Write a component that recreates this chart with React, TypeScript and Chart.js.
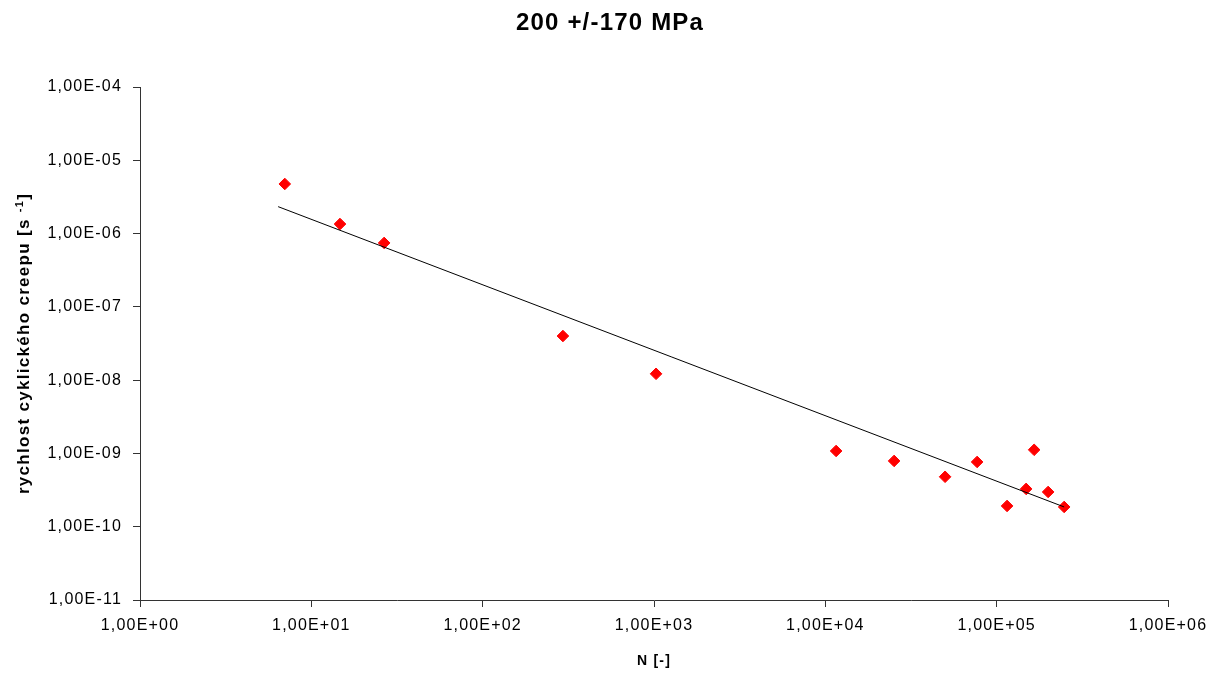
import React, { useEffect, useRef } from 'react';
import { Chart, registerables } from 'chart.js';

Chart.register(...registerables);

const chartTitle = '200 +/-170 MPa';
const xAxisTitle = 'N [-]';
const yAxisTitleMain = 'rychlost cyklického creepu [s ';
const yAxisTitleSup = '-1';
const yAxisTitleEnd = ']';

const nCycles = [7.0, 14.7, 26.6, 294, 1028, 11560, 25200, 50000, 76900, 115000, 148600, 165500, 199700, 247700];
const creepRate = [4.75e-6, 1.35e-6, 7.45e-7, 4.0e-8, 1.22e-8, 1.08e-9, 7.9e-10, 4.8e-10, 7.65e-10, 1.92e-10, 3.28e-10, 1.12e-9, 2.98e-10, 1.86e-10];

const trendN = [6.4, 247700];
const trendRate = [2.33e-6, 1.86e-10];

const xTickValues = [1, 10, 100, 1000, 10000, 100000, 1000000];
const xTickLabels = ['1,00E+00', '1,00E+01', '1,00E+02', '1,00E+03', '1,00E+04', '1,00E+05', '1,00E+06'];
const yTickValues = [1e-11, 1e-10, 1e-9, 1e-8, 1e-7, 1e-6, 1e-5, 1e-4];
const yTickLabels = ['1,00E-11', '1,00E-10', '1,00E-09', '1,00E-08', '1,00E-07', '1,00E-06', '1,00E-05', '1,00E-04'];

const FONT = "'Liberation Sans', Arial, sans-serif";

const spacingPlugin = {
  id: 'spacing',
  beforeDraw(chart: any) {
    (chart.ctx as any).letterSpacing = '1.2px';
  },
  afterDraw(chart: any) {
    (chart.ctx as any).letterSpacing = '0px';
  },
};

const yTitlePlugin = {
  id: 'yTitleSup',
  afterDraw(chart: any) {
    const ctx = chart.ctx as any;
    ctx.save();
    ctx.letterSpacing = '1.3px';
    const mainFont = `bold 17px ${FONT}`;
    const supFont = `bold 11px ${FONT}`;
    ctx.font = mainFont;
    const w1 = ctx.measureText(yAxisTitleMain).width;
    const w3 = ctx.measureText(yAxisTitleEnd).width;
    ctx.font = supFont;
    const w2 = ctx.measureText(yAxisTitleSup).width;
    const total = w1 + w2 + w3;
    const cy = (chart.chartArea.top + chart.chartArea.bottom) / 2;
    ctx.translate(29, cy);
    ctx.rotate(-Math.PI / 2);
    ctx.fillStyle = '#000';
    ctx.textBaseline = 'alphabetic';
    ctx.textAlign = 'left';
    let x = -total / 2;
    ctx.font = mainFont;
    ctx.fillText(yAxisTitleMain, x, 0);
    x += w1;
    ctx.font = supFont;
    ctx.fillText(yAxisTitleSup, x, -6);
    x += w2;
    ctx.font = mainFont;
    ctx.fillText(yAxisTitleEnd, x, 0);
    ctx.restore();
  },
};

export default function App() {
  const canvasRef = useRef<HTMLCanvasElement | null>(null);

  useEffect(() => {
    const canvas = canvasRef.current;
    if (!canvas) return;
    const chart = new Chart(canvas, {
      type: 'scatter',
      data: {
        datasets: [
          {
            label: 'trend',
            data: trendN.map((n, i) => ({ x: n, y: trendRate[i] })),
            showLine: true,
            borderColor: '#000000',
            borderWidth: 1,
            pointRadius: 0,
            fill: false,
            order: 0,
          },
          {
            label: 'data',
            data: nCycles.map((n, i) => ({ x: n, y: creepRate[i] })),
            pointStyle: 'rectRot',
            pointRadius: 5.8,
            backgroundColor: '#ff0000',
            borderColor: '#ff0000',
            borderWidth: 1,
            showLine: false,
            order: 1,
          },
        ],
      },
      plugins: [spacingPlugin, yTitlePlugin],
      options: {
        responsive: false,
        animation: false,
        layout: { padding: { left: 0, right: 0, top: 0, bottom: 0 } },
        plugins: {
          legend: { display: false },
          tooltip: { enabled: false },
          title: {
            display: true,
            text: chartTitle,
            color: '#000',
            font: { family: FONT, size: 24, weight: 'bold' },
            padding: { top: 9.1, bottom: 49.1 },
          },
        },
        scales: {
          x: {
            type: 'logarithmic',
            position: 'bottom',
            min: 1,
            max: 1000000,
            afterBuildTicks: (scale: any) => {
              scale.ticks = xTickValues.map((v) => ({ value: v, major: true }));
            },
            afterFit: (scale: any) => {
              scale.height = 73;
            },
            ticks: {
              autoSkip: false,
              maxRotation: 0,
              minRotation: 0,
              padding: 9,
              color: '#000',
              font: { family: FONT, size: 16 },
              callback: (_v: any, i: number) => xTickLabels[i],
            },
            grid: {
              display: true,
              drawOnChartArea: false,
              drawTicks: true,
              tickLength: 7,
              color: '#333',
            },
            border: { display: true, color: '#333', width: 1 },
            title: {
              display: true,
              text: xAxisTitle,
              color: '#000',
              font: { family: FONT, size: 14, weight: 'bold' },
              padding: { top: 0, bottom: 3.6 },
            },
          },
          y: {
            type: 'logarithmic',
            position: 'left',
            min: 1e-11,
            max: 1e-4,
            afterBuildTicks: (scale: any) => {
              scale.ticks = yTickValues.map((v) => ({ value: v, major: true }));
            },
            afterFit: (scale: any) => {
              scale.width = 140;
            },
            ticks: {
              autoSkip: false,
              padding: 11,
              color: '#000',
              font: { family: FONT, size: 16 },
              callback: (_v: any, i: number) => yTickLabels[i],
            },
            grid: {
              display: true,
              drawOnChartArea: false,
              drawTicks: true,
              tickLength: 7,
              color: '#333',
            },
            border: { display: true, color: '#333', width: 1 },
            title: { display: false },
          },
          yRightSpacer: {
            type: 'linear',
            position: 'right',
            display: true,
            grid: { display: false, drawTicks: false },
            border: { display: false },
            ticks: { display: false },
            title: { display: false },
            afterFit: (scale: any) => {
              scale.width = 52;
            },
          },
        },
      },
    } as any);
    return () => {
      chart.destroy();
    };
  }, []);

  return (
    <div style={{ position: 'absolute', left: 0, top: 0, width: 1220, height: 673, background: '#fff' }}>
      <canvas ref={canvasRef} width={1220} height={673} style={{ display: 'block' }} />
    </div>
  );
}
